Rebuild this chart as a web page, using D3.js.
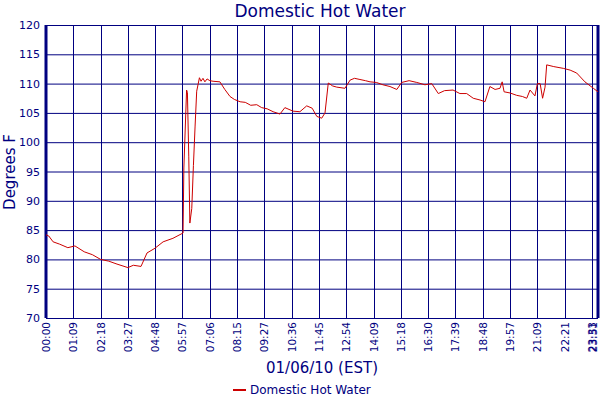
<!DOCTYPE html>
<html><head><meta charset="utf-8">
<script src="https://cdn.jsdelivr.net/npm/d3@7"></script>
<style>body{margin:0;background:#fff}text{font-family:Verdana,"DejaVu Sans",sans-serif;fill:#000080}</style>
</head><body><svg id="chart" width="600" height="400"></svg>
<script>
// tick labels along the time axis (equally spaced)
const timeLabels = ["00:00","01:09","02:18","03:27","04:48","05:57","07:06","08:15","09:27","10:36",
  "11:45","12:54","14:09","15:18","16:30","17:39","18:48","19:57","21:09","22:21","23:33"];
const lastLabel = "23:51", lastPos = 20.22;
const yTicks = [70,75,80,85,90,95,100,105,110,115,120];
// sample positions in tick units, and temperatures
const samplePos = [0,0.1,0.26,0.5,0.8,1.06,1.4,1.7,2.0,2.3,2.6,3.0,3.2,3.48,3.7,3.99,4.29,4.65,5.02,
  5.05,5.15,5.18,5.23,5.27,5.34,5.40,5.46,5.52,5.62,5.68,5.75,5.82,5.90,6.0,6.12,6.37,6.55,6.74,6.9,7.11,
  7.3,7.5,7.72,7.9,8.1,8.32,8.57,8.75,9.05,9.3,9.55,9.75,9.92,10.1,10.22,10.34,10.5,10.65,10.95,11.14,
  11.3,11.5,11.7,11.87,12.1,12.34,12.6,12.85,13.03,13.3,13.58,13.88,14.13,14.37,14.6,14.91,15.16,15.41,
  15.65,15.9,16.08,16.26,16.45,16.63,16.71,16.78,17.0,17.24,17.45,17.61,17.73,17.91,18.0,18.1,18.19,
  18.28,18.34,18.6,18.95,19.2,19.44,19.74,20.05,20.22];
const sampleTemp = [84.2,84.0,83.0,82.6,82.0,82.3,81.3,80.8,80.0,79.7,79.2,78.6,79.0,78.8,81.1,81.9,83.0,83.6,84.5,
  95.6,108.9,108.5,97.5,86.2,88.7,96,102.6,108.7,111,110.4,110.9,110.3,110.8,110.5,110.4,110.3,109,107.8,107.3,106.9,
  106.8,106.3,106.4,105.9,105.7,105.2,104.8,105.9,105.3,105.2,106.2,105.8,104.4,104.1,105,110.1,109.6,109.4,109.2,110.6,
  110.9,110.7,110.5,110.3,110.2,109.8,109.5,109.0,110.2,110.5,110.2,109.8,110.0,108.3,108.8,108.9,108.3,108.3,
  107.5,107.2,106.9,109.5,109.0,109.2,110.3,108.6,108.4,108,107.8,107.5,108.9,107.9,110,110,107.5,
  109.4,113.2,112.9,112.6,112.3,111.8,110.3,109.2,108.6];

const svg = d3.select("#chart");
const m = {l:46, r:598, t:25, b:318};
const x = d3.scaleLinear().domain([0, lastPos]).range([m.l, m.r]);
const y = d3.scaleLinear().domain([70,120]).range([m.b, m.t]);
const navy = "#000080";

const grid = svg.append("g").attr("stroke", navy).attr("stroke-width", 1);
grid.selectAll(".hy").data(yTicks).enter().append("line")
  .attr("x1", m.l).attr("x2", m.r).attr("y1", d => y(d)+0.5).attr("y2", d => y(d)+0.5);
const xt = timeLabels.map((d,i) => ({label:d, pos:i})).concat([{label:lastLabel, pos:lastPos}]);
grid.selectAll(".vx").data(xt).enter().append("line")
  .attr("y1", m.t).attr("y2", m.b).attr("x1", d => Math.round(x(d.pos))+0.5).attr("x2", d => Math.round(x(d.pos))+0.5);
svg.append("line").attr("x1", m.l).attr("x2", m.l).attr("y1", m.t).attr("y2", m.b).attr("stroke", navy).attr("stroke-width", 3);
svg.append("line").attr("x1", m.r).attr("x2", m.r).attr("y1", m.t).attr("y2", m.b).attr("stroke", navy).attr("stroke-width", 3);

svg.selectAll(".yl").data(yTicks).enter().append("text")
  .attr("x", 40).attr("y", d => y(d)+4).attr("text-anchor", "end").attr("font-size", 11).text(d => d);
svg.selectAll(".xl").data(xt).enter().append("text")
  .attr("transform", d => `translate(${Math.min(x(d.pos)+4, 597)},322) rotate(-90)`)
  .attr("text-anchor", "end").attr("font-size", 10.5).text(d => d.label);

const pts = samplePos.map((p,i) => [p, sampleTemp[i]]);
svg.append("path").datum(pts).attr("fill", "none").attr("stroke", "#cc0000").attr("stroke-width", 1)
  .attr("d", d3.line().x(d => x(d[0])).y(d => y(d[1])));

svg.append("text").attr("x", 320).attr("y", 17).attr("text-anchor", "middle").attr("font-size", 17).text("Domestic Hot Water");
svg.append("text").attr("transform", "translate(15,172) rotate(-90)").attr("text-anchor", "middle").attr("font-size", 15).text("Degrees F");
svg.append("text").attr("x", 322).attr("y", 373).attr("text-anchor", "middle").attr("font-size", 15).text("01/06/10 (EST)");
svg.append("line").attr("x1", 233).attr("x2", 246).attr("y1", 390).attr("y2", 390).attr("stroke", "#cc0000").attr("stroke-width", 2);
svg.append("text").attr("x", 250).attr("y", 394).attr("font-size", 12).text("Domestic Hot Water");
</script></body></html>
